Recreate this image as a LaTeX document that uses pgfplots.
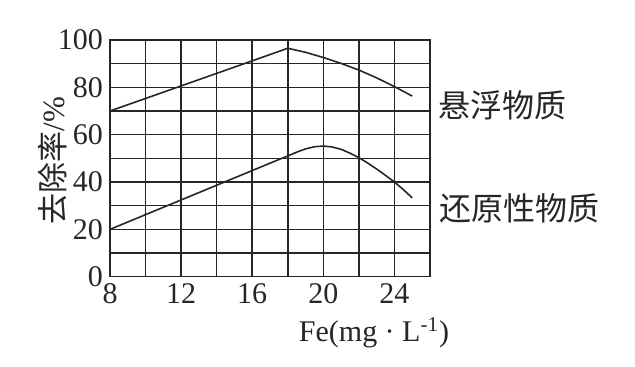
\documentclass[border=0pt]{standalone}
\usepackage{pgfplots}
\pgfplotsset{compat=1.18}
\usepackage{fontspec}
\setmainfont{Liberation Serif}
\newfontfamily\cjk{Noto Sans CJK SC}
\begin{document}
\begin{tikzpicture}[x=1pt,y=1pt]
\path[use as bounding box] (-55,-45.15) rectangle (262.5,138.35);
\begin{axis}[
  at={(0,0)}, anchor=south west,
  scale only axis, width=160pt, height=118.35pt,
  xmin=8, xmax=26, ymin=0, ymax=100,
  xtick={8,12,16,20,24}, minor xtick={10,14,18,22,26},
  ytick={0,20,40,60,80,100}, minor ytick={10,30,50,70,90},
  grid=both,
  major tick length=0pt, minor tick length=0pt,
  grid style={line width=0.75pt, black!85},
  minor grid style={line width=0.75pt, black!85},
  major grid style={line width=0.75pt, black!85},
  axis line style={line width=0.75pt, black!85},
  tick label style={font=\fontsize{15}{17}\selectfont, text=black!85},
  /pgf/number format/assume math mode=true,
  clip=false,
  xlabel={Fe(mg\ ·\ L\textsuperscript{-1})},
  xlabel style={at={(axis description cs:0.825,0)}, anchor=center, yshift=-28pt, font=\fontsize{15}{17}\selectfont, text=black!85},
  ylabel={{\cjk 去除率}/\%},
  ylabel style={at={(axis description cs:-0.18,0.49)}, anchor=center, font=\fontsize{15.5}{17}\selectfont, text=black!85},
]
\addplot[line width=0.8pt, black!85, no marks] coordinates {
(8,70) (18,96.5) (19,94.8) (20,92.6) (21,90.1) (22,87.3) (23,84) (24,80.3) (25,76.3)
};
\addplot[line width=0.8pt, black!85, no marks] coordinates {
(8,20) (17.5,49.5) (18,51) (18.5,52.6) (19,54) (19.5,54.9) (20,55.2) (20.5,54.8) (21,53.8) (21.5,52.2) (22,50.3) (22.5,48) (23,45.5) (23.5,42.8) (24,40) (24.5,36.8) (25,33.3)
};
\node[font=\cjk\fontsize{16}{18}\selectfont, text=black!85] at (rel axis cs:1.228,0.725) {悬浮物质};
\node[font=\cjk\fontsize{16}{18}\selectfont, text=black!85] at (rel axis cs:1.281,0.289) {还原性物质};
\end{axis}
\end{tikzpicture}
\end{document}
